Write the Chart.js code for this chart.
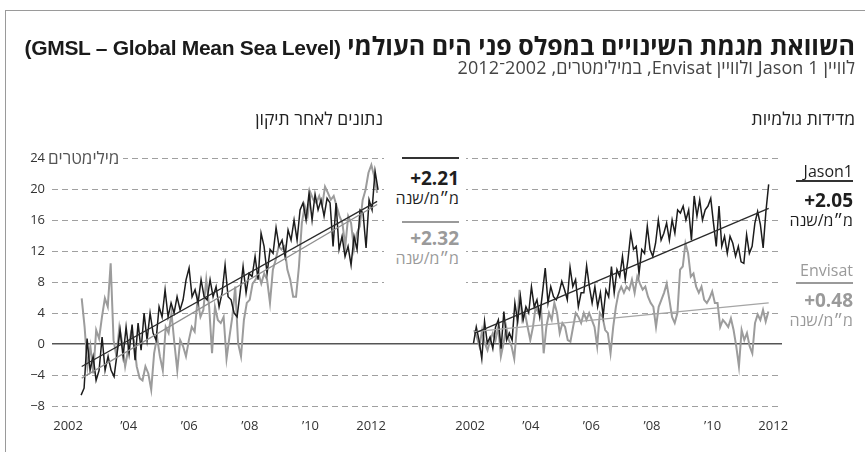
<!DOCTYPE html>
<html lang="he">
<head>
<meta charset="utf-8">
<script src="https://cdn.jsdelivr.net/npm/chart.js@4/dist/chart.umd.min.js"></script>
<style>
  body { margin: 0; background: #fff; font-family: "Open Sans", "Liberation Sans", sans-serif; }
  #page { position: relative; width: 865px; height: 452px; overflow: hidden; }
  #frame { position: absolute; left: 5px; top: 10px; right: -2px; bottom: -2px; border-left: 1px solid #9a9a9a; border-top: 1px solid #9a9a9a; }
  canvas { position: absolute; left: 0; top: 0; }
  .t { position: absolute; white-space: nowrap; direction: rtl; }
  #title { right: 10px; top: 30px; font: bold 25px "Open Sans", sans-serif; color: #1a1a1a; line-height: 30px; }
  #title span { font-family: "Liberation Sans", sans-serif; font-size: 21px; letter-spacing: -0.3px; }
  #sub { right: 10px; top: 57px; font-size: 18px; letter-spacing: 0.1px; color: #444; line-height: 21px; }
  .head { font-size: 17.5px; color: #222; line-height: 22px; top: 107px; }
  #unitY { left: 46px; top: 148px; font-size: 17px; color: #555; background: #fff; line-height: 20px; padding: 0 4px 0 2px; }
  #noteBox { position: absolute; left: 384px; top: 148px; width: 82px; height: 150px; background: #fff; }
  .rule { position: absolute; height: 2px; }
  .big { font-weight: bold; font-size: 19px; line-height: 22px; direction: ltr; }
  .unit { font-size: 16px; line-height: 19px; }
  .dark { color: #1e1e1e; }
  .grey { color: #9a9a9a; }
</style>
</head>
<body>
<div id="page">
  <div id="frame"></div>
  <canvas id="gmslChart" width="865" height="452"></canvas>

  <div class="t" id="title">השוואת מגמת השינויים במפלס פני הים העולמי <span>(GMSL – Global Mean Sea Level)</span></div>
  <div class="t" id="sub">לוויין Jason 1 ולוויין Envisat, במילימטרים, 2002־2012</div>
  <div class="t head" style="right:482px">נתונים לאחר תיקון</div>
  <div class="t head" style="right:10px">מדידות גולמיות</div>
  <div class="t" id="unitY">מילימטרים</div>

  <div id="noteBox"></div>
  <div class="rule" style="left:402px; top:157px; width:57px; background:#333"></div>
  <div class="t big dark" style="right:406px; top:167px">+2.21</div>
  <div class="t unit dark" style="right:406px; top:189px">מ״מ/שנה</div>
  <div class="rule" style="left:402px; top:221px; width:57px; background:#9a9a9a"></div>
  <div class="t big grey" style="right:406px; top:227px">+2.32</div>
  <div class="t unit grey" style="right:406px; top:249px">מ״מ/שנה</div>

  <div class="t unit dark" style="right:12px; top:162px">Jason1</div>
  <div class="rule" style="left:796px; top:180px; width:57px; background:#333"></div>
  <div class="t big dark" style="right:12px; top:189px">+2.05</div>
  <div class="t unit dark" style="right:12px; top:211px">מ״מ/שנה</div>
  <div class="t unit grey" style="right:12px; top:261px">Envisat</div>
  <div class="rule" style="left:796px; top:282px; width:57px; background:#9a9a9a"></div>
  <div class="t big grey" style="right:12px; top:289px">+0.48</div>
  <div class="t unit grey" style="right:12px; top:311px">מ״מ/שנה</div>
</div>

<script>
// x axis: both panels share one linear axis, the raw panel is drawn PANEL_SHIFT years further right
const PANEL_SHIFT = 13.27;
const X_MIN = 2001.47;
const X_MAX = 2025.56;

const yearTicks = [2002, 2004, 2006, 2008, 2010, 2012];
const yearLabels = ['2002', '’04', '’06', '’08', '’10', '2012'];
const yMin = -8;
const yMax = 24;
const yStep = 4;

// corrected data (left panel), mm
const corrJasonSpan = [2002.43, 2012.23];
const corrJason = [-6.6, -5.7, 0.7, -3.4, -1.6, -4.7, -3.4, 0.9, -3.4, -1.6, -3.4, -4.2, -1.2, 1.8, -1.6, 2.2, -1.2, 2.5, -2.1, 2.7,
  -0.8, 4.0, 0.5, 4.0, 1.4, 0.5, 4.8, 3.5, 7.0, 3.5, 5.3, 4.0, 6.1, 4.4, 5.7, 8.3, 9.8, 6.1, 7.0, 5.3,
  8.3, 6.1, 5.7, 8.3, 6.1, 7.4, 4.8, 6.6, 10.2, 6.1, 5.7, 4.0, 3.5, 6.6, 10.0, 6.6, 9.1, 8.7, 11.3, 8.3,
  14.3, 12.6, 9.1, 12.2, 11.7, 15.0, 12.6, 13.4, 11.3, 14.7, 13.4, 16.0, 13.4, 17.3, 18.2, 16.0, 19.5, 16.0, 19.3, 17.3,
  18.6, 16.5, 18.8, 18.2, 12.6, 18.2, 12.2, 13.9, 11.3, 12.6, 10.2, 13.9, 12.2, 17.3, 16.9, 12.4, 18.6, 17.3, 22.3, 19.9];

const corrEnvisatSpan = [2002.45, 2012.2];
const corrEnvisat = [5.9, 2.2, -2.9, -0.3, -3.8, 1.8, 0.7, 3.5, 5.9, 4.8, 10.4, 0.5, -1.6, 2.2, 0.1, -2.9, -0.8, 1.4, 0.5, -2.9,
  -4.4, -4.7, -2.9, -3.8, -5.9, -1.2, 0.9, -1.6, -3.4, 2.2, 1.4, 4.0, 0.1, -3.4, 0.5, -0.3, -1.6, 0.5, 2.2, 1.6,
  5.7, 3.5, 4.4, 8.3, 4.8, -1.2, 4.8, 3.1, 2.7, 3.5, -1.9, 0.9, 3.5, 7.4, 0.1, -1.6, 3.1, 5.3, 5.7, 7.8,
  8.3, 9.1, 7.8, 9.1, 8.3, 5.3, 9.6, 10.9, 12.6, 12.2, 12.6, 9.6, 8.3, 6.1, 6.1, 10.0, 15.6, 17.8, 16.5, 19.5,
  18.6, 18.2, 19.1, 17.8, 20.3, 19.5, 18.6, 19.1, 17.8, 16.5, 15.6, 12.6, 16.5, 15.6, 12.2, 14.3, 15.2, 18.6, 19.9, 22.1,
  23.1, 21.6, 19.5];

// raw measurements (right panel), mm
const rawJasonSpan = [2002.11, 2011.85];
const rawJason = [0.1, 2.2, 0.5, -1.9, 2.9, 0.1, 0.9, -0.6, 2.2, 3.1, -0.6, 4.2, 0.5, 1.4, 0.5, 5.3, 2.9, 6.1, 3.1, 4.8,
  4.0, 7.4, 4.8, 5.7, 3.5, 6.6, 9.8, 5.3, 7.4, 6.1, 5.7, 6.6, 8.1, 7.0, 5.7, 9.9, 7.4, 8.3, 4.8, 6.6,
  6.6, 10.1, 7.4, 5.3, 7.4, 4.8, 6.6, 3.6, 7.0, 6.1, 10.0, 6.6, 9.6, 8.7, 11.3, 8.3, 10.9, 14.3, 12.2, 12.6,
  9.1, 12.2, 11.7, 15.2, 12.2, 11.3, 13.0, 16.0, 13.4, 14.3, 15.6, 13.4, 16.0, 14.3, 17.3, 16.9, 17.8, 16.0, 17.3, 13.4,
  19.1, 16.5, 18.6, 16.0, 17.3, 17.8, 18.8, 15.6, 12.6, 17.8, 12.6, 13.9, 11.7, 13.9, 13.0, 11.3, 12.6, 10.6, 10.4, 14.1,
  11.7, 12.6, 15.6, 17.1, 15.4, 12.4, 17.1, 20.6];

const rawEnvisatSpan = [2002.13, 2011.84];
const rawEnvisat = [1.8, 0.9, -0.3, 1.8, 0.1, -0.8, 0.5, 1.4, 0.5, 2.2, -1.6, 0.1, 2.2, 0.5, -0.3, -1.9, 2.2, 7.0, 3.1, 4.0,
  2.2, 0.5, 2.2, 4.8, 4.0, 4.8, -1.2, 2.2, 4.0, 3.1, 5.3, 4.0, 1.4, 2.7, 2.2, 0.5, 0.3, 2.2, 4.0, 3.5,
  2.7, 4.0, 3.1, 4.0, 3.1, 2.2, -0.3, 4.0, 3.5, 1.8, 1.4, -1.2, 2.2, 4.8, 6.6, 7.4, 6.6, 7.4, 7.0, 8.3,
  6.6, 8.7, 7.8, 7.0, 7.4, 6.1, 5.3, 4.8, 2.2, 4.8, 5.7, 6.6, 7.8, 5.7, 3.5, 2.7, 4.0, 9.6, 10.0, 13.0,
  11.7, 8.7, 9.1, 7.4, 6.6, 7.4, 5.7, 5.3, 5.9, 6.8, 5.3, 5.3, 2.2, 3.1, 2.7, 2.2, 3.3, 1.8, -0.3, -2.9,
  1.8, 0.5, 1.4, -0.3, -1.2, 2.7, 3.8, 3.1, 4.4, 2.9, 4.2];

// trend lines as drawn: [year, mm] at both ends
const corrJasonTrend = [[2002.45, -2.9], [2012.2, 18.4]];
const corrEnvisatTrend = [[2002.45, -4.4], [2012.2, 18.0]];
const rawJasonTrend = [[2002.15, 1.4], [2011.85, 17.5]];
const rawEnvisatTrend = [[2002.15, 1.6], [2011.85, 5.3]];

const BLACK = '#1c1c1c';
const GREY = '#9c9c9c';

function toPoints(values, span, shift) {
    let step = (span[1] - span[0]) / (values.length - 1);
    return values.map((v, i) => ({x: span[0] + i * step + shift, y: v}));
}

function trendPoints(pair, shift) {
    return pair.map(p => ({x: p[0] + shift, y: p[1]}));
}

function series(data, color, width, order) {
    return {data: data, borderColor: color, borderWidth: width, pointRadius: 0, tension: 0, fill: false, order: order};
}

let tickValues = yearTicks.concat(yearTicks.map(y => y + PANEL_SHIFT));

function tickLabel(value) {
    let year = value > X_MIN + PANEL_SHIFT - 0.5 ? value - PANEL_SHIFT : value;
    let idx = yearTicks.findIndex(y => Math.abs(y - year) < 0.01);
    return idx >= 0 ? yearLabels[idx] : '';
}

const FONT = '"Open Sans", "Liberation Sans", sans-serif';

new Chart(document.getElementById('gmslChart'), {
    type: 'line',
    data: {
        datasets: [
            series(toPoints(corrEnvisat, corrEnvisatSpan, 0), GREY, 2, 4),
            series(toPoints(corrJason, corrJasonSpan, 0), BLACK, 1.5, 3),
            series(trendPoints(corrEnvisatTrend, 0), '#8f8f8f', 1.3, 2),
            series(trendPoints(corrJasonTrend, 0), '#2a2a2a', 1.3, 1),
            series(toPoints(rawEnvisat, rawEnvisatSpan, PANEL_SHIFT), GREY, 2, 4),
            series(toPoints(rawJason, rawJasonSpan, PANEL_SHIFT), BLACK, 1.5, 3),
            series(trendPoints(rawEnvisatTrend, PANEL_SHIFT), '#a5a5a5', 1.3, 2),
            series(trendPoints(rawJasonTrend, PANEL_SHIFT), '#2a2a2a', 1.3, 1)
        ]
    },
    options: {
        responsive: false,
        animation: false,
        events: [],
        layout: {padding: {top: 158, right: 83, left: 0, bottom: 0}},
        plugins: {
            legend: {display: false},
            tooltip: {enabled: false}
        },
        scales: {
            x: {
                type: 'linear',
                min: X_MIN,
                max: X_MAX,
                grid: {display: false},
                border: {display: false},
                afterBuildTicks: scale => {
                    scale.ticks = tickValues.map(v => ({value: v}));
                },
                afterFit: scale => {
                    scale.height = 46;
                },
                ticks: {
                    autoSkip: false,
                    maxRotation: 0,
                    padding: 4,
                    color: '#333',
                    font: {size: 13, family: FONT},
                    callback: value => tickLabel(value)
                }
            },
            y: {
                min: yMin,
                max: yMax,
                afterFit: scale => {
                    scale.width = 52;
                },
                grid: {
                    drawTicks: false,
                    color: ctx => ctx.tick && ctx.tick.value === 0 ? '#555' : '#a0a0a0',
                    lineWidth: ctx => ctx.tick && ctx.tick.value === 0 ? 1.4 : 1
                },
                border: {
                    display: false,
                    dash: ctx => ctx.tick && ctx.tick.value === 0 ? [] : [6, 4]
                },
                ticks: {
                    stepSize: yStep,
                    padding: 7,
                    color: '#333',
                    font: {size: 13, family: FONT},
                    callback: value => value < 0 ? '−' + Math.abs(value) : String(value)
                }
            }
        }
    }
});
</script>
</body>
</html>
